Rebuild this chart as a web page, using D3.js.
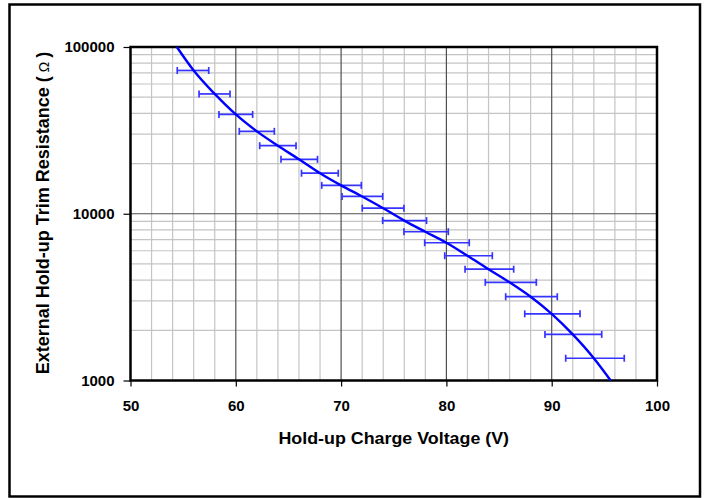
<!DOCTYPE html>
<html>
<head>
<meta charset="utf-8">
<script src="https://cdn.jsdelivr.net/npm/d3@7"></script>
<style>
  html, body { margin: 0; padding: 0; background: #fff; }
  svg { display: block; }
  text { font-family: "Liberation Sans", Arial, sans-serif; font-weight: bold; fill: #000; }
</style>
</head>
<body>
<svg id="chart" width="707" height="498"></svg>
<script>
// Measured trim points: charge voltage (V), resistance (ohm) and the voltage spread
const pointVolts = [56, 58, 60, 62, 64, 66, 68, 70, 72, 74, 76, 78, 80, 82, 84, 86, 88, 90, 92, 94];
const pointOhms  = [72300, 52300, 39400, 31200, 25600, 21200, 17500, 14800, 12700, 10800,
                    9100, 7800, 6700, 5600, 4650, 3880, 3180, 2510, 1890, 1360];
const spreadLow  = [54.44, 56.51, 58.40, 60.33, 62.27, 64.29, 66.24, 68.16, 70.09, 72.01,
                    73.95, 75.97, 77.94, 79.84, 81.77, 83.69, 85.63, 87.44, 89.36, 91.33];
const spreadHigh = [57.43, 59.45, 61.60, 63.66, 65.72, 67.76, 69.73, 71.92, 73.95, 75.97,
                    78.11, 80.18, 82.17, 84.36, 86.39, 88.54, 90.53, 92.69, 94.75, 96.89];

// Fitted trim-resistance curve
const curveVolts = [54.4, 56, 58, 60, 62, 64, 66, 68, 70, 72, 74, 76, 78, 80, 82, 84, 86, 88, 90, 92, 94, 95.6];
const curveOhms  = [100000, 72300, 52300, 39400, 31200, 25600, 21200, 17500, 14800, 12700, 10800,
                    9100, 7800, 6700, 5600, 4650, 3880, 3180, 2510, 1890, 1360, 1000];

const xTicks = [50, 60, 70, 80, 90, 100];
const yTicks = [1000, 10000, 100000];

const svg = d3.select("#chart");

// outer frame
svg.append("rect")
  .attr("x", 9.5).attr("y", 4.5).attr("width", 690.5).attr("height", 492)
  .attr("fill", "none").attr("stroke", "#000").attr("stroke-width", 2.5);

const plotL = 130.5, plotR = 657, plotT = 47, plotB = 380.5;

const x = d3.scaleLinear().domain([50, 100]).range([plotL, plotR]);
const y = d3.scaleLog().domain([1000, 100000]).range([plotB, plotT]);

const grid = svg.append("g");

// minor vertical grid every 2 V
const minorX = d3.range(52, 100, 2).filter(v => v % 10 !== 0);
grid.selectAll(".vminor").data(minorX).join("line")
  .attr("x1", d => x(d)).attr("x2", d => x(d))
  .attr("y1", plotT).attr("y2", plotB)
  .attr("stroke", "#c4c4c4").attr("stroke-width", 1.2);

// minor horizontal grid (2..9 per decade)
const minorY = [];
[1000, 10000].forEach(dec => { for (let k = 2; k <= 9; k++) minorY.push(dec * k); });
grid.selectAll(".hminor").data(minorY).join("line")
  .attr("x1", plotL).attr("x2", plotR)
  .attr("y1", d => y(d)).attr("y2", d => y(d))
  .attr("stroke", "#c4c4c4").attr("stroke-width", 1.2);

// major grid
grid.selectAll(".vmajor").data(xTicks.slice(1, -1)).join("line")
  .attr("x1", d => x(d)).attr("x2", d => x(d))
  .attr("y1", plotT).attr("y2", plotB)
  .attr("stroke", "#505050").attr("stroke-width", 1.2);
grid.selectAll(".hmajor").data([10000]).join("line")
  .attr("x1", plotL).attr("x2", plotR)
  .attr("y1", d => y(d)).attr("y2", d => y(d))
  .attr("stroke", "#505050").attr("stroke-width", 1.2);

// axes
const xAxis = svg.append("g")
  .attr("transform", `translate(0,${plotB})`)
  .call(d3.axisBottom(x).tickValues(xTicks).tickSize(6).tickPadding(14).tickFormat(d3.format("d")));
const yAxis = svg.append("g")
  .attr("transform", `translate(${plotL},0)`)
  .call(d3.axisLeft(y).tickValues(yTicks).tickSize(7).tickPadding(9).tickFormat(d3.format("d")));

[xAxis, yAxis].forEach(a => {
  a.select(".domain").remove();
  a.selectAll(".tick line").attr("stroke", "#000").attr("stroke-width", 1.2);
  a.selectAll(".tick text").attr("font-size", 15)
    .attr("font-family", "'Liberation Sans', Arial, sans-serif").attr("font-weight", "bold");
});

// plot frame
svg.append("rect")
  .attr("x", plotL).attr("y", plotT).attr("width", plotR - plotL).attr("height", plotB - plotT)
  .attr("fill", "none").attr("stroke", "#000").attr("stroke-width", 2.5);

// horizontal error bars
const bars = svg.append("g").attr("stroke", "#3535ff").attr("stroke-width", 1.7);
const idx = d3.range(pointVolts.length);
bars.selectAll(".bar").data(idx).join("line")
  .attr("x1", i => x(spreadLow[i])).attr("x2", i => x(spreadHigh[i]))
  .attr("y1", i => y(pointOhms[i])).attr("y2", i => y(pointOhms[i]));
bars.selectAll(".capl").data(idx).join("line")
  .attr("x1", i => x(spreadLow[i])).attr("x2", i => x(spreadLow[i]))
  .attr("y1", i => y(pointOhms[i]) - 3.5).attr("y2", i => y(pointOhms[i]) + 3.5);
bars.selectAll(".caph").data(idx).join("line")
  .attr("x1", i => x(spreadHigh[i])).attr("x2", i => x(spreadHigh[i]))
  .attr("y1", i => y(pointOhms[i]) - 3.5).attr("y2", i => y(pointOhms[i]) + 3.5);

// fitted curve
const line = d3.line()
  .x(i => x(curveVolts[i])).y(i => y(curveOhms[i]))
  .curve(d3.curveMonotoneX);
svg.append("path")
  .attr("d", line(d3.range(curveVolts.length)))
  .attr("fill", "none").attr("stroke", "#0000ff").attr("stroke-width", 2.4);

// axis titles
svg.append("text")
  .attr("transform", `translate(${(plotL + plotR) / 2},444) scale(1.05,1)`)
  .attr("text-anchor", "middle").attr("font-size", 17)
  .text("Hold-up Charge Voltage (V)");

const yt = svg.append("text")
  .attr("transform", `translate(48.5,213) rotate(-90)`)
  .attr("text-anchor", "middle").attr("font-size", 18);
yt.append("tspan").text("External Hold-up Trim Resistance (");
yt.append("tspan").attr("font-weight", "normal").attr("font-size", 14).attr("dx", 4).text("Ω");
yt.append("tspan").attr("dx", 4).text(")");
</script>
</body>
</html>
